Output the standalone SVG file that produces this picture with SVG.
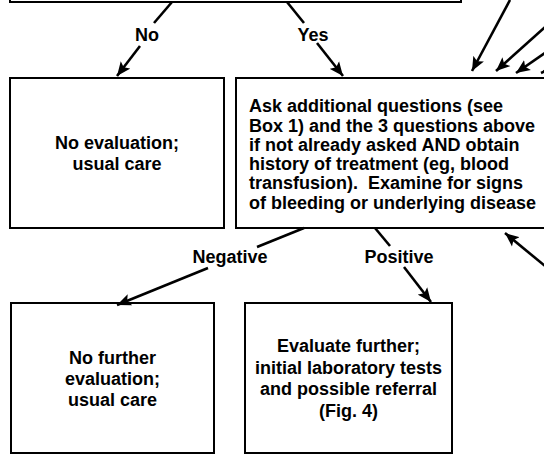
<svg xmlns="http://www.w3.org/2000/svg" width="544" height="456" viewBox="0 0 544 456">
<style>
.box{fill:#fff;stroke:#000;stroke-width:2}
.t{font-family:"Liberation Sans",Arial,sans-serif;font-weight:bold;font-size:18px;fill:#000;white-space:pre}
.c{text-anchor:middle}
.ln{fill:none;stroke:#000;stroke-width:2.6}
</style>
<defs>
<marker id="ah" markerUnits="userSpaceOnUse" markerWidth="15" markerHeight="13" viewBox="0 0 15 13" refX="14" refY="6.5" orient="auto">
<path d="M0,0.5 L14,6.5 L0,12.5 L3,6.5 z" fill="#000"/>
</marker>
</defs>
<rect width="544" height="456" fill="#fff"/>
<g id="top-box">
<rect class="box" x="10" y="-40" width="451" height="42"/>
</g>
<g id="no-eval">
<rect class="box" x="10" y="78" width="214" height="150"/>
<text class="t c" x="117" y="149">No evaluation;</text>
<text class="t c" x="117" y="170">usual care</text>
</g>
<g id="ask-questions">
<rect class="box" x="236" y="78" width="330" height="150"/>
<text class="t" x="249" y="112">Ask additional questions (see</text>
<text class="t" x="249" y="131.5">Box 1) and the 3 questions above</text>
<text class="t" x="249" y="150.5">if not already asked AND obtain</text>
<text class="t" x="249" y="170">history of treatment (eg, blood</text>
<text class="t" x="249" y="189" xml:space="preserve">transfusion).  Examine for signs</text>
<text class="t" x="249" y="208.5">of bleeding or underlying disease</text>
</g>
<g id="no-further">
<rect class="box" x="11" y="303" width="203" height="150"/>
<text class="t c" x="112.5" y="364">No further</text>
<text class="t c" x="112.5" y="385">evaluation;</text>
<text class="t c" x="112.5" y="406">usual care</text>
</g>
<g id="evaluate-further">
<rect class="box" x="245" y="303" width="207" height="150"/>
<text class="t c" x="348.5" y="352">Evaluate further;</text>
<text class="t c" x="348.5" y="373.5">initial laboratory tests</text>
<text class="t c" x="348.5" y="395">and possible referral</text>
<text class="t c" x="348.5" y="416.5">(Fig. 4)</text>
</g>
<g id="connectors">
<line class="ln" x1="172" y1="2" x2="154" y2="23"/>
<line class="ln" x1="140" y1="46" x2="117" y2="76" marker-end="url(#ah)"/>
<text class="t c" x="147" y="41">No</text>
<line class="ln" x1="287" y1="2" x2="304" y2="23"/>
<line class="ln" x1="317" y1="43" x2="343" y2="76" marker-end="url(#ah)"/>
<text class="t c" x="313" y="41">Yes</text>
<line class="ln" x1="510" y1="0" x2="472" y2="71" marker-end="url(#ah)"/>
<line class="ln" x1="545" y1="27" x2="496" y2="71" marker-end="url(#ah)"/>
<line class="ln" x1="545" y1="53" x2="516" y2="73" marker-end="url(#ah)"/>
<line class="ln" x1="552" y1="68" x2="541" y2="73" marker-end="url(#ah)"/>
<line class="ln" x1="304" y1="228" x2="257" y2="247"/>
<line class="ln" x1="208" y1="268" x2="117" y2="305" marker-end="url(#ah)"/>
<text class="t c" x="230" y="263">Negative</text>
<line class="ln" x1="375" y1="228" x2="390" y2="246"/>
<line class="ln" x1="404" y1="267" x2="431" y2="302" marker-end="url(#ah)"/>
<text class="t c" x="399" y="263">Positive</text>
<line class="ln" x1="545" y1="266" x2="505" y2="233" marker-end="url(#ah)"/>
</g>
</svg>
